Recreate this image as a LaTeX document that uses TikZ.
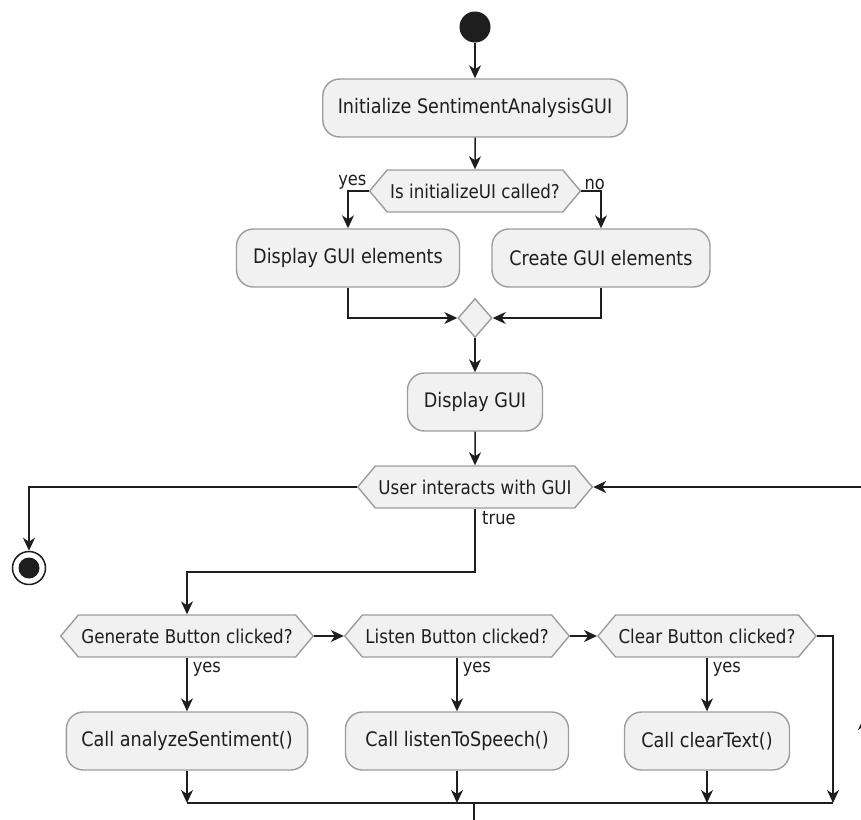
\documentclass[tikz,border=0pt]{standalone}
\usepackage{fontspec}
\setmainfont{DejaVu Sans}[FakeStretch=0.88]
\usetikzlibrary{arrows.meta,shapes.geometric,shapes.symbols,positioning}

\definecolor{boxfill}{HTML}{F1F1F1}
\definecolor{boxline}{HTML}{9C9C9C}
\definecolor{flow}{HTML}{1E1E1E}

\begin{document}
\begin{tikzpicture}[x=1pt, y=-1pt,
	action/.style={draw=boxline, fill=boxfill, line width=1.4pt, rounded corners=17pt,
		minimum height=58pt, inner xsep=15pt, text=flow, font=\fontsize{20}{23}\selectfont},
	choice/.style={draw=boxline, fill=boxfill, line width=1.4pt, shape=signal,
		signal to=west and east, signal pointer angle=100, minimum height=42pt,
		inner xsep=3pt, text=flow, font=\fontsize{19}{22}\selectfont},
	mergepoint/.style={draw=boxline, fill=boxfill, line width=1.4pt, diamond,
		minimum width=34pt, minimum height=39pt, inner sep=0pt},
	flowline/.style={draw=flow, line width=1.5pt, -{Stealth[length=13pt,width=12pt,inset=4pt]}},
	plainline/.style={draw=flow, line width=1.5pt},
	guard/.style={text=flow, inner sep=1pt, font=\fontsize{18.5}{21}\selectfont}]
	
	\useasboundingbox (0,0) rectangle (861,819);
	
	% TOP PART
	
	\node [circle, fill=flow, minimum size=31pt, inner sep=0pt] at (475,27) (start) {};
	\node [action, minimum width=303pt] at (475,108) (init) {Initialize SentimentAnalysisGUI};
	\node [choice] at (475,191) (initq) {Is initializeUI called?};
	
	\node [action, minimum width=223pt] at (348,258) (dispel) {Display GUI elements};
	\node [action, minimum width=218pt] at (601,258) (creel) {Create GUI elements};
	
	\node [mergepoint] at (475,318) (merge) {};
	\node [action, minimum width=135pt] at (475,402) (dispgui) {Display GUI};
	
	\draw [flowline] (start) -- (init);
	\draw [flowline] (init) -- (initq);
	
	% yes / no branches
	\draw [flowline] (initq.west) -| (dispel.north);
	\draw [flowline] (initq.east) -| (creel.north);
	\node [guard, anchor=south east] at ([xshift=-1pt]initq.west) (yesa) {yes};
	\node [guard, anchor=south west] at ([xshift=2pt]initq.east) (noa) {no};
	
	\draw [flowline] (dispel.south) |- (merge.west);
	\draw [flowline] (creel.south) |- (merge.east);
	\draw [flowline] (merge) -- (dispgui);
	
	% LOOP
	
	\node [choice] at (475,487) (loopq) {User interacts with GUI};
	\node [circle, draw=flow, line width=1.5pt, fill=white, minimum size=33pt, inner sep=0pt,
		path picture={\fill [flow] (path picture bounding box.center) circle (10.5pt);}]
		at (29,568) (stop) {};
	
	\draw [flowline] (dispgui) -- (loopq);
	\draw [flowline] (loopq.west) -| (stop.north);
	
	\node [guard, anchor=north west] at ([xshift=6pt,yshift=-2pt]loopq.south) (truelbl) {true};
	\coordinate (split) at (475,572);
	
	% BOTTOM ROW
	
	\def\qy{636}
	\def\cy{741}
	
	\node [choice] at (187,\qy) (genq) {Generate Button clicked?};
	\node [choice] at (457,\qy) (lisq) {Listen Button clicked?};
	\node [choice] at (707,\qy) (clrq) {Clear Button clicked?};
	
	\node [action, minimum width=241pt] at (187,\cy) (callan) {Call analyzeSentiment()};
	\node [action, minimum width=223pt] at (457,\cy) (callli) {Call listenToSpeech()};
	\node [action, minimum width=165pt] at (707,\cy) (callcl) {Call clearText()};
	
	\draw [flowline] (loopq.south) -- (split) -| (genq.north);
	\draw [flowline] (genq.east) -- (lisq.west);
	\draw [flowline] (lisq.east) -- (clrq.west);
	
	\draw [flowline] (genq.south) -- (callan.north) node [guard, pos=0.22, right=4pt] (yesg) {yes};
	\draw [flowline] (lisq.south) -- (callli.north) node [guard, pos=0.22, right=4pt] (yesl) {yes};
	\draw [flowline] (clrq.south) -- (callcl.north) node [guard, pos=0.22, right=4pt] (yesc) {yes};
	
	% Join line
	\coordinate (joinL) at (187,803);
	\coordinate (joinR) at (833,803);
	\coordinate (joinout) at (474,803);
	\coordinate (exit) at (474,830);
	
	\draw [plainline] (joinL) -- (joinR);
	\draw [flowline] (callan.south) -- (callan.south |- joinL);
	\draw [flowline] (callli.south) -- (callli.south |- joinL);
	\draw [flowline] (callcl.south) -- (callcl.south |- joinL);
	\draw [flowline] (clrq.east) -| (joinR);
	\draw [plainline] (joinout) -- (exit);
	
	% Back to the loop
	\coordinate (backlow) at (864,830);
	\coordinate (backmid) at (864,717);
	\coordinate (backtop) at (864,487);
	\draw [flowline] (backlow) -- (backmid);
	\draw [flowline] (backmid) -- (backtop) -- (loopq.east);
	
\end{tikzpicture}
\end{document}
